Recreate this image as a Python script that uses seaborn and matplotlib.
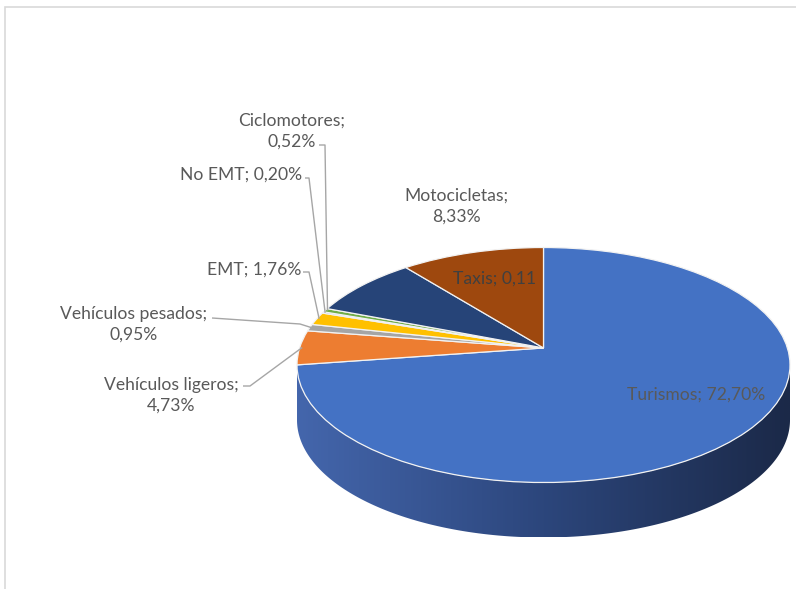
import numpy as np
import matplotlib
matplotlib.use("Agg")
import matplotlib.pyplot as plt
import seaborn as sns
from matplotlib.patches import Polygon, Rectangle
from matplotlib.colors import LinearSegmentedColormap
from matplotlib.transforms import Transform

# ---- data ----
categories = ["Turismos", "Vehículos ligeros", "Vehículos pesados", "EMT",
              "No EMT", "Ciclomotores", "Motocicletas", "Taxis"]
values = [72.70, 4.73, 0.95, 1.76, 0.20, 0.52, 8.33, 10.81]
label_texts = ["Turismos; 72,70%", "Vehículos ligeros;\n4,73%", "Vehículos pesados;\n0,95%",
               "EMT; 1,76%", "No EMT; 0,20%", "Ciclomotores;\n0,52%",
               "Motocicletas;\n8,33%", "Taxis; 0,11"]
colors = ["#4472C4", "#ED7D31", "#A5A5A5", "#FFC000", "#5B9BD5", "#70AD47", "#264478", "#9E480E"]

sns.set_theme(style="white")
plt.rcParams['font.family'] = ['Lato', 'DejaVu Sans']

W, H = 796, 589
fig = plt.figure(figsize=(W / 100, H / 100), dpi=100)
ax = fig.add_axes([0, 0, 1, 1])

# pixel geometry of the ellipse (layout)
CX, CY, RX, RY, DEPTH = 543.5, 365.0, 246.5, 117.5, 55.0
TILT = 0.145  # perspective shift of the pie centre

def P(x, y):
    return ((x - CX) / RX, (CY - y) / RY)


class Persp(Transform):
    """Projective map keeping the unit circle, moving its centre upward (3D look)."""
    input_dims = output_dims = 2

    def __init__(self, a):
        super().__init__()
        self.a = a
        self.c = np.sqrt(1 - a * a)

    def transform_non_affine(self, xy):
        xy = np.asarray(xy, dtype=float)
        x, y = xy[:, 0], xy[:, 1]
        den = 1 + self.a * y
        return np.column_stack([x * self.c / den, (y + self.a) / den])


persp = Persp(TILT)
d = DEPTH / RY

# top face
wedges, _ = ax.pie(values, colors=colors, startangle=90, counterclock=False,
                   radius=1, center=(0, 0), frame=True,
                   wedgeprops=dict(edgecolor='#F2F2F2', linewidth=0.9))
for w in wedges:
    w.set_transform(persp + ax.transData)
    w.set_zorder(2)

ax.set_xlim(P(0, 0)[0], P(W, 0)[0])
ax.set_ylim(P(0, H)[1], P(0, 0)[1])
ax.set_aspect('auto')
ax.set_axis_off()

# side of the cylinder (front)
th = np.linspace(np.pi, 2 * np.pi, 300)
top = np.column_stack([np.cos(th), np.sin(th)])
bot = np.column_stack([np.cos(th[::-1]), np.sin(th[::-1]) - d])
side = Polygon(np.vstack([top, bot]), closed=True, facecolor='none', edgecolor='none')
ax.add_patch(side)
cmap = LinearSegmentedColormap.from_list("side", ["#4466AC", "#2C467C", "#1B2948"])
grad = np.linspace(0, 1, 256).reshape(1, -1)
im = ax.imshow(grad, cmap=cmap, extent=(-1, 1, -1 - d, 0.05), aspect='auto', zorder=1)
im.set_clip_path(side)
ax.set_xlim(P(0, 0)[0], P(W, 0)[0])
ax.set_ylim(P(0, H)[1], P(0, 0)[1])

# mid angles of slices
ang = []
start = 90.0
for v in values:
    span = v / sum(values) * 360
    ang.append(np.deg2rad(start - span / 2))
    start -= span

TXT = '#595959'
LINE = '#A6A6A6'
fs = 12.6

def label(i, px, py, color=TXT):
    x, y = P(px, py)
    ax.text(x, y, label_texts[i], ha='center', va='center', fontsize=fs, color=color,
            linespacing=1.4, zorder=5)

def leader(i, pts_px, r=0.99):
    pts = [P(*p) for p in pts_px]
    tgt = persp.transform_non_affine(np.array([[r * np.cos(ang[i]), r * np.sin(ang[i])]]))[0]
    pts.append(tuple(tgt))
    xs, ys = zip(*pts)
    ax.plot(xs, ys, color=LINE, lw=1.0, zorder=4, solid_capstyle='butt')

# Turismos
label(0, 696, 395)
# Vehiculos ligeros
label(1, 171, 395.5)
leader(1, [(243, 386), (250, 386)])
# Vehiculos pesados
label(2, 134, 324.5)
leader(2, [(212, 318), (300, 324)])
# EMT
label(3, 254, 270)
leader(3, [(303, 272), (309, 272)])
# No EMT
label(4, 241, 175)
leader(4, [(305, 178), (309, 178)])
# Ciclomotores
label(5, 292, 131)
leader(5, [(319, 145), (325, 145)])
# Motocicletas
label(6, 456, 206)
# Taxis
label(7, 495, 279, color='#404040')

# chart frame
fig.patches.append(Rectangle((5 / W, -0.05), 1.2, (H - 7) / H + 0.05, transform=fig.transFigure,
                             fill=False, edgecolor='#D9D9D9', linewidth=1.2, zorder=0))

fig.savefig("out.png", dpi=100)
